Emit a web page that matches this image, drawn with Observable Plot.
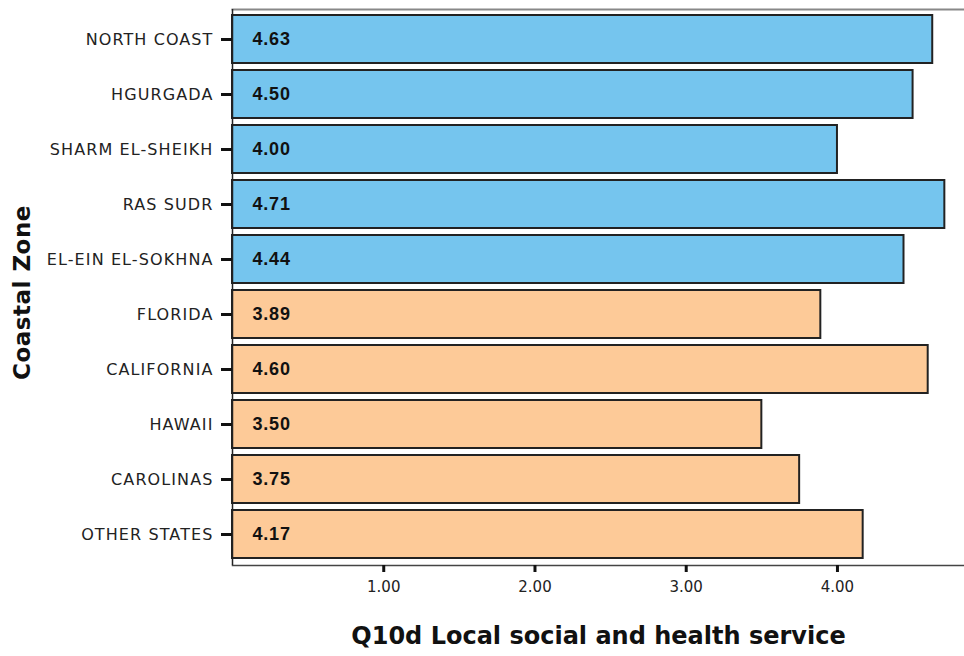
<!DOCTYPE html>
<html>
<head>
<meta charset="utf-8">
<script src="https://cdn.jsdelivr.net/npm/d3@7"></script>
<script src="https://cdn.jsdelivr.net/npm/@observablehq/plot@0.6"></script>
<style>
  html, body { margin: 0; padding: 0; background: #fff; }
  #chart svg { display: block; }
</style>
</head>
<body>
<div id="chart"></div>
<script>
const zones = ["NORTH COAST", "HGURGADA", "SHARM EL-SHEIKH", "RAS SUDR", "EL-EIN EL-SOKHNA", "FLORIDA", "CALIFORNIA", "HAWAII", "CAROLINAS", "OTHER STATES"];
const means = [4.63, 4.50, 4.00, 4.71, 4.44, 3.89, 4.60, 3.50, 3.75, 4.17];
const groups = ["Egypt", "Egypt", "Egypt", "Egypt", "Egypt", "USA", "USA", "USA", "USA", "USA"];
const xTicks = [1, 2, 3, 4];

const data = zones.map((z, i) => ({zone: z, value: means[i], group: groups[i]}));

const chart = Plot.plot({
  width: 964,
  height: 656,
  marginLeft: 232,
  marginRight: 0,
  marginTop: 9,
  marginBottom: 91,
  style: {fontFamily: "'DejaVu Sans', sans-serif", background: "#fff", color: "#111"},
  x: {domain: [0, 4.84]},
  y: {domain: zones, paddingInner: 0.12, paddingOuter: 0.06},
  color: {domain: ["Egypt", "USA"], range: ["#75c5ee", "#fdca98"]},
  marks: [
    Plot.barX(data, {x: "value", y: "zone", fill: "group", stroke: "#222", strokeWidth: 2}),
    Plot.text(data, {x: 0, y: "zone", text: d => d.value.toFixed(2), dx: 20, textAnchor: "start",
      fontFamily: "'Liberation Sans', Arial, sans-serif", fontWeight: "bold", fontSize: 18, fill: "#111",
      className: "vals"}),
    Plot.frame({anchor: "top", stroke: "#888", strokeWidth: 2}),
    Plot.frame({anchor: "bottom", stroke: "#444", strokeWidth: 1.5}),
    Plot.ruleX([0], {stroke: "#222", strokeWidth: 1.5}),
    Plot.axisX({ticks: xTicks, tickFormat: d => d.toFixed(2), tickSize: 7, tickPadding: 9, strokeWidth: 3,
      fontSize: 15, label: "Q10d Local social and health service", labelAnchor: "center", labelArrow: "none",
      labelOffset: 78, className: "xax"}),
    Plot.axisY({tickSize: 11, tickPadding: 8, strokeWidth: 3, fontSize: 16, label: null, className: "yax"}),
    Plot.text(["Coastal Zone"], {frameAnchor: "left", textAnchor: "middle", dx: -210, dy: 5, rotate: -90,
      fontSize: 23, fontWeight: "bold", fontFamily: "'DejaVu Sans', sans-serif", fill: "#111", className: "ylab"})
  ]
});

document.getElementById("chart").appendChild(chart);
const svg = d3.select(chart);
svg.selectAll("[aria-label='y-axis tick label'], [aria-label='y-axis tick label'] text")
  .style("font-size", "16px").style("letter-spacing", "1.1px").attr("fill", "#222");
svg.selectAll("[aria-label='x-axis tick label'], [aria-label='x-axis tick label'] text")
  .style("font-size", "15px").attr("fill", "#222");
svg.selectAll("[aria-label='x-axis label'], [aria-label='x-axis label'] text")
  .style("font-size", "24px").style("font-weight", "bold").attr("fill", "#111");
svg.selectAll(".vals, .vals text").style("letter-spacing", "0.8px");
svg.selectAll(".ylab, .ylab text").style("letter-spacing", "0.5px");
</script>
</body>
</html>
